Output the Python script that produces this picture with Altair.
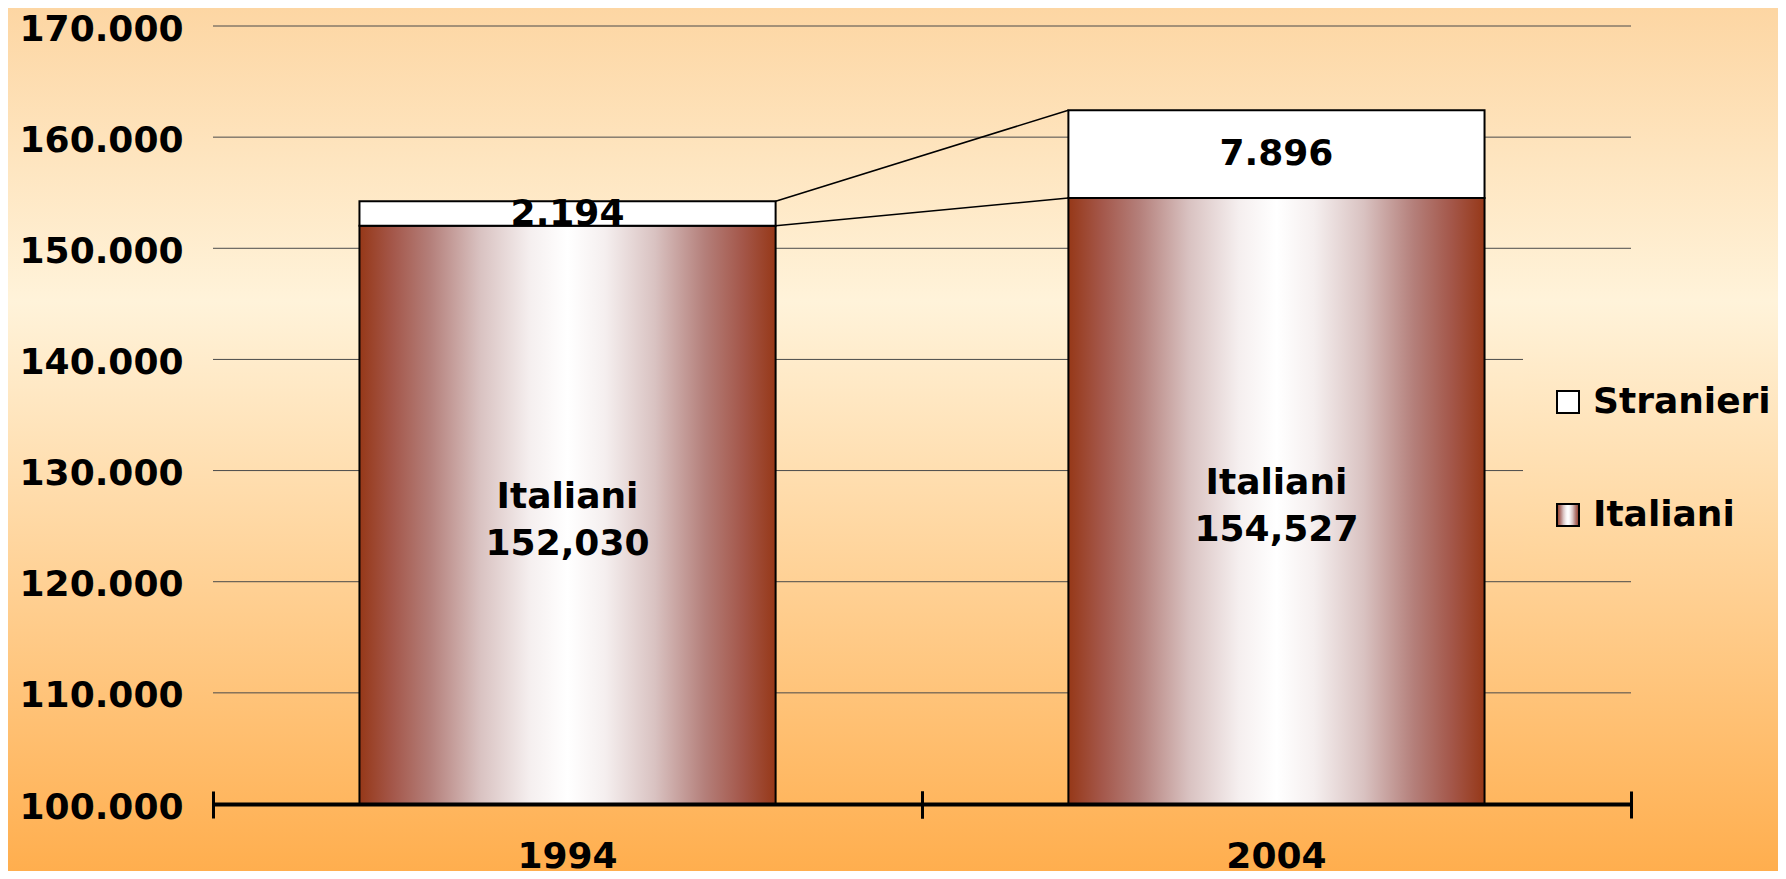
import altair as alt
import pandas as pd

# ---- data ----
years = ["1994", "2004"]
italiani = [152030, 154527]
stranieri = [2194, 7896]
groups = ["Stranieri", "Italiani"]
y_ticks = [100000, 110000, 120000, 130000, 140000, 150000, 160000, 170000]

# ---- layout / style ----
W, H = 1418, 778
PAD = {"left": 205, "top": 18, "right": 147, "bottom": 67}
FONT = "DejaVu Sans"
FS = 36
HALF_STEP = 354.5  # half of a category step, to put ticks between categories

base = y_ticks[0]
rows = []
for yr, it, st in zip(years, italiani, stranieri):
    rows.append({"year": yr, "group": "Italiani", "start": base, "end": it})
    rows.append({"year": yr, "group": "Stranieri", "start": it, "end": it + st})
bars_df = pd.DataFrame(rows)

it_lab = pd.DataFrame({
    "year": years,
    "mid": [(base + v) / 2 for v in italiani],
    "text": [f"Italiani\n{v:,}" for v in italiani],
})
st_lab = pd.DataFrame({
    "year": years,
    "mid": [i + s / 2 for i, s in zip(italiani, stranieri)],
    "text": [f"{s:,}".replace(",", ".") for s in stranieri],
})
conn = pd.DataFrame({
    "from": [years[0]] * 2,
    "to": [years[1]] * 2,
    "ya": [italiani[0] + stranieri[0], italiani[0]],
    "yb": [italiani[1] + stranieri[1], italiani[1]],
})
grid_df = pd.DataFrame({"v": y_ticks[1:]})

bar_stops = [(0, "#963818"), (0.08, "#a4574a"), (0.17, "#b47f7a"), (0.29, "#d9c2c1"),
             (0.41, "#f5efef"), (0.5, "#ffffff"), (0.59, "#f5efef"), (0.71, "#d9c2c1"),
             (0.83, "#b47f7a"), (0.92, "#a4574a"), (1, "#963818")]
GRAD = ("{gradient: 'linear', x1: 0, y1: 0, x2: 1, y2: 0, stops: ["
        + ", ".join(f"{{offset: {o}, color: '{c}'}}" for o, c in bar_stops) + "]}")
LEG_GRAD = ("{gradient: 'linear', x1: 0, y1: 0, x2: 0, y2: 1, stops: ["
            "{offset: 0, color: '#ffeccc'}, {offset: 1, color: '#ffd49a'}]}")

bg_grad = alt.LinearGradient(
    gradient="linear", x1=0, y1=0, x2=0, y2=1,
    stops=[alt.GradientStop(offset=0, color="#fdd6a3"),
           alt.GradientStop(offset=0.34, color="#fff3da"),
           alt.GradientStop(offset=1, color="#ffae4e")],
)

xscale = alt.Scale(domain=years, paddingInner=0.413, paddingOuter=0.2066)
yscale = alt.Scale(domain=[y_ticks[0], y_ticks[-1]], nice=False, zero=False)

background = alt.Chart(pd.DataFrame({"a": [0]})).mark_rect(fill=bg_grad, strokeWidth=0).encode(
    x=alt.value(-PAD["left"]), x2=alt.value(W + PAD["right"]),
    y=alt.value(-PAD["top"]), y2=alt.value(H + PAD["bottom"]),
)

grid = alt.Chart(grid_df).mark_rule(color="#4a4a4a", strokeWidth=1).encode(
    y=alt.Y("v:Q", scale=yscale, title=None,
            axis=alt.Axis(values=y_ticks, grid=False, domain=False, ticks=False,
                          labelFont=FONT, labelFontSize=FS, labelFontWeight="bold",
                          labelColor="black", labelPadding=30, labelOffset=3, zindex=1,
                          labelExpr="replace(format(datum.value, ','), ',', '.')")),
)

bars = alt.Chart(bars_df).mark_bar(stroke="black", strokeWidth=2).encode(
    x=alt.X("year:N", scale=xscale, sort=years, title=None,
            axis=alt.Axis(orient="bottom", labelAngle=0, labelFont=FONT, labelFontSize=FS,
                          labelFontWeight="bold", labelColor="black", labelPadding=35,
                          ticks=False, domainColor="black", domainWidth=4, grid=False,
                          zindex=1)),
    y=alt.Y("start:Q", title=None),
    y2="end:Q",
    fill=alt.Fill("group:N",
                  scale=alt.Scale(domain=groups, range=["white", {"expr": GRAD}]),
                  legend=alt.Legend(title=None, orient="none", legendX=1310, legendY=331,
                                    padding=27, fillColor={"expr": LEG_GRAD},
                                    symbolType="square", symbolSize=484,
                                    symbolStrokeColor="black", symbolStrokeWidth=2,
                                    labelFont=FONT, labelFontSize=FS, labelFontWeight="bold",
                                    labelColor="black", labelOffset=7, labelLimit=400,
                                    rowPadding=77)),
)

connectors = alt.Chart(conn).mark_rule(color="black", strokeWidth=1.5).encode(
    x=alt.X("from:N", bandPosition=1, title=None, axis=None),
    x2=alt.X2("to:N", bandPosition=0),
    y=alt.Y("ya:Q", title=None),
    y2="yb:Q",
)

tick_axis = dict(orient="bottom", offset=-13, labels=False, domain=False, grid=False,
                 ticks=True, tickSize=27, tickWidth=3, tickColor="black", zindex=1)

it_text = alt.Chart(it_lab).mark_text(font=FONT, fontSize=FS, fontWeight="bold", color="black",
                                      lineBreak="\n", lineHeight=47, baseline="middle",
                                      dy=-18).encode(
    x=alt.X("year:N", title=None, axis=alt.Axis(tickOffset=-HALF_STEP, **tick_axis)),
    y=alt.Y("mid:Q", title=None),
    text="text:N",
)
st_text = alt.Chart(st_lab).mark_text(font=FONT, fontSize=FS, fontWeight="bold", color="black",
                                      baseline="middle").encode(
    x=alt.X("year:N", title=None, axis=alt.Axis(tickOffset=HALF_STEP, **tick_axis)),
    y=alt.Y("mid:Q", title=None),
    text="text:N",
)

chart = alt.layer(background, grid, bars, connectors, it_text, st_text).resolve_axis(
    x="independent"
).properties(
    width=W, height=H,
    autosize=alt.AutoSizeParams(type="none"),
    padding=PAD,
).configure(background="#ffc27a").configure_view(stroke=None)

chart.save("out.html", embed_options={"renderer": "svg", "actions": False})
